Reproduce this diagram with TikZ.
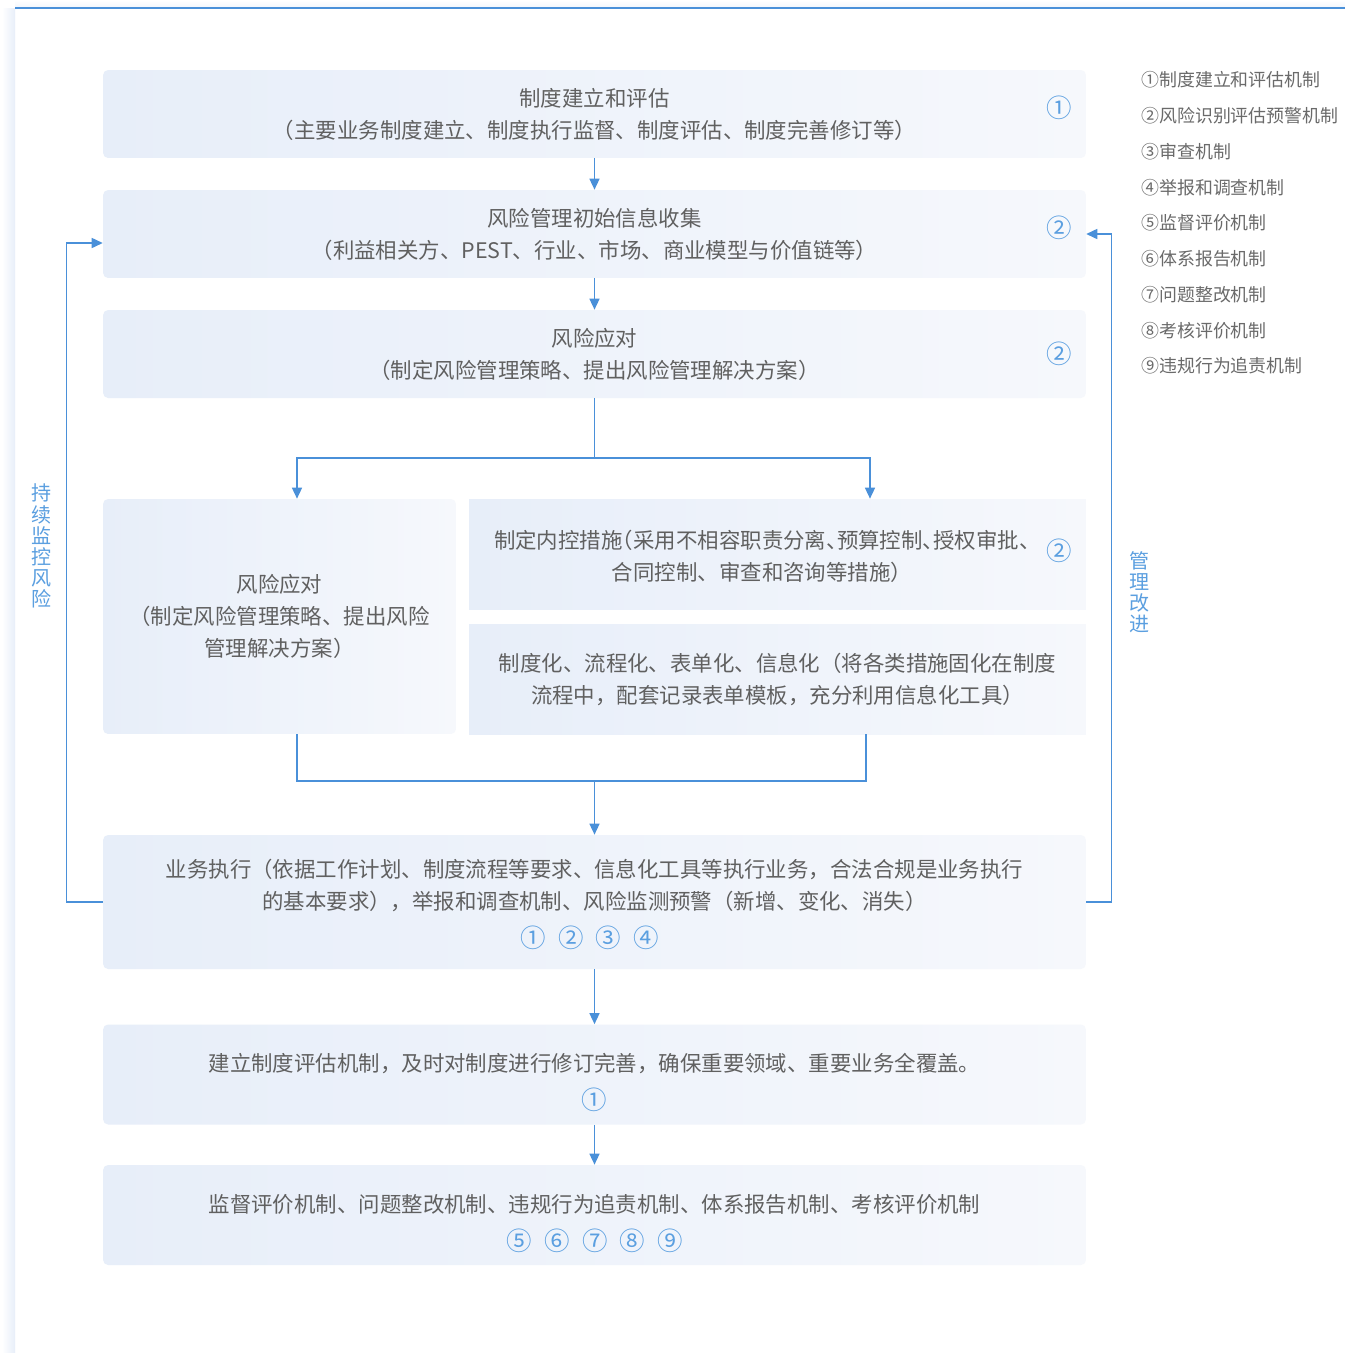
\documentclass[tikz,border=0pt]{standalone}
\usepackage{fontspec}
\setmainfont{Noto Sans CJK SC}
\usepackage{xcolor}
\usepackage{tikz}
\usetikzlibrary{arrows.meta}

\definecolor{lineblue}{HTML}{4A90D9}
\definecolor{labelblue}{HTML}{5B9FE0}
\definecolor{txtgray}{HTML}{606060}
\definecolor{leggray}{HTML}{6A6A6A}
\definecolor{boxleft}{HTML}{E7EEF9}
\definecolor{boxright}{HTML}{F6F8FC}
% half-width punctuation
\newcommand{\halfl}[1]{\makebox[0.5em][l]{#1}}
\newcommand{\halfr}[1]{\makebox[0.5em][r]{#1}}

\begin{document}
\begin{tikzpicture}[x=0.02cm, y=-0.02cm,
        stagebox/.style={rectangle, rounded corners=0.1cm, left color=boxleft, right color=boxright, draw=none, inner sep=0pt, text=txtgray, align=center, font=\fontsize{12.2pt}{18.2pt}\selectfont},
        sqbox/.style={stagebox, rounded corners=0pt},
        plaintext/.style={text=txtgray, align=center, inner sep=0pt, font=\fontsize{12.2pt}{18.2pt}\selectfont},
        num/.style={text=labelblue, inner sep=0pt, font=\fontsize{14.5pt}{15pt}\selectfont},
        legend/.style={text=leggray, anchor=west, inner sep=0pt, font=\fontsize{10.2pt}{12pt}\selectfont},
        sidelabel/.style={text=labelblue, align=center, inner sep=0pt, font=\fontsize{11.4pt}{12pt}\selectfont},
        link/.style={draw=lineblue, line width=0.85pt},
        flow/.style={link, -{Triangle[length=0.22cm, width=0.2cm]}}]
        \useasboundingbox (0,0) rectangle (1345,1353);
        \fill[white] (0,0) rectangle (1345,1353);

        % Card frame
        \shade[left color=white, right color=boxleft] (2,8) rectangle (15,1353);
        \shade[top color=white, bottom color=boxleft!60] (15,0) rectangle (1345,8);
        \draw[lineblue, line width=0.6pt] (15,8) -- (1345,8);

        % Main stages
        \node[stagebox, minimum width=19.66cm, minimum height=1.76cm] (setup) at (594.5,114) {制度建立和评估\\（主要业务制度建立、制度执行监督、制度评估、制度完善修订等）};
        \node[stagebox, minimum width=19.66cm, minimum height=1.76cm] (collect) at (594.5,234) {风险管理初始信息收集\\（利益相关方、PEST、行业、市场、商业模型与价值链等）};
        \node[stagebox, minimum width=19.66cm, minimum height=1.76cm] (respond) at (594.5,354) {风险应对\\（制定风险管理策略、提出风险管理解决方案）};

        % Split into measures
        \node[stagebox, minimum width=7.06cm, minimum height=4.7cm] (riskL) at (279.5,616.5) {风险应对\\（制定风险管理策略、提出风险\\管理解决方案）};
        \node[sqbox, minimum width=12.34cm, minimum height=2.2cm] (ctrl) at (777.5,554) {};
        \node[plaintext] (ctrlText) at (762,556) {制定内控措施\halfr{（}采用不相容职责分离\halfl{、}预算控制\halfl{、}授权审批\halfl{、}\\合同控制、审查和咨询等措施）};
        \node[sqbox, minimum width=12.34cm, minimum height=2.2cm] (tool) at (777.5,679) {制度化、流程化、表单化、信息化（将各类措施固化在制度\\流程中，配套记录表单模板，充分利用信息化工具）};

        % Execution and review
        \node[stagebox, minimum width=19.66cm, minimum height=2.68cm] (exec) at (594.5,902) {};
        \node[plaintext] (execText) at (594.5,885) {业务执行（依据工作计划、制度流程等要求、信息化工具等执行业务，合法合规是业务执行\\的基本要求），举报和调查机制、风险监测预警（新增、变化、消失）};
        \node[stagebox, minimum width=19.66cm, minimum height=2cm] (review) at (594.5,1074.5) {};
        \node[plaintext] (reviewText) at (594.5,1064) {建立制度评估机制，及时对制度进行修订完善，确保重要领域、重要业务全覆盖。};
        \node[stagebox, minimum width=19.66cm, minimum height=2cm] (supervise) at (594.5,1215) {};
        \node[plaintext] (superviseText) at (594.5,1204) {监督评价机制、问题整改机制、违规行为追责机制、体系报告机制、考核评价机制};

        % Mechanism numbers
        \node[num] (nSetup) at (1059,108) {①};
        \node[num] (nCollect) at (1059,228) {②};
        \node[num] (nRespond) at (1059,354) {②};
        \node[num] (nCtrl) at (1059,551) {②};
        \foreach \n/\x in {①/533, ②/571, ③/608, ④/646}
            \node[num] at (\x,938) {\n};
        \node[num] (nReview) at (594,1100) {①};
        \foreach \n/\x in {⑤/519, ⑥/557, ⑦/595, ⑧/632, ⑨/670}
            \node[num] at (\x,1241) {\n};

        % Connectors
        \draw[flow] (setup) -- (collect);
        \draw[flow] (collect) -- (respond);
        \coordinate (splitL) at (297,458);
        \coordinate (splitR) at (870,458);
        \draw[flow] (respond.south) |- (splitL) -- (splitL |- riskL.north);
        \draw[flow] (respond.south) |- (splitR) -- (splitR |- ctrl.north);
        \coordinate (mergeL) at (297,781);
        \coordinate (mergeR) at (866,781);
        \draw[link] (mergeL |- riskL.south) -- (mergeL) -- (mergeR) -- (mergeR |- tool.south);
        \draw[flow] (exec.north |- mergeL) -- (exec.north);
        \draw[flow] (exec) -- (review);
        \draw[flow] (review) -- (supervise);

        % Feedback loops
        \draw[flow] (exec.west) -- ++(-36,0) |- ([yshift=-0.18cm]collect.west);
        \node[sidelabel] (monitor) at (42,546) {持\\续\\监\\控\\风\\险};
        \draw[flow] (exec.east) -- ++(25,0) |- (collect.east);
        \node[sidelabel] (improve) at (1140,592) {管\\理\\改\\进};

        % Legend
        \foreach \t [count=\i] in {①制度建立和评估机制, ②风险识别评估预警机制, ③审查机制, ④举报和调查机制, ⑤监督评价机制, ⑥体系报告机制, ⑦问题整改机制, ⑧考核评价机制, ⑨违规行为追责机制}
            \node[legend] (leg\i) at (1141,{80+35.75*(\i-1)}) {\t};
    \end{tikzpicture}
\end{document}
